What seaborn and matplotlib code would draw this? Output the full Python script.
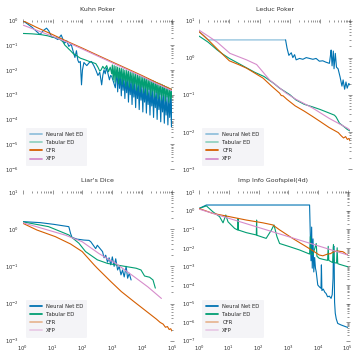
import matplotlib
matplotlib.use("Agg")
import matplotlib.pyplot as plt
from matplotlib.lines import Line2D
import seaborn as sns

# ------------------------------------------------------------
# dados (exploitability x iteracoes)
# ------------------------------------------------------------
LABELS = ['Neural Net ED', 'Tabular ED', 'CFR', 'XFP']
CORES = ['#0173b2', '#029e73', '#d55e00', '#d68ccb']

# Kuhn Poker
kuhn_nn_x = [1, 2, 3.8, 5, 6.3, 7.5, 9.3, 12, 15, 19.5, 25, 30, 35, 42, 49, 56, 63, 70, 76, 85,
             93, 100, 112, 140, 170, 200, 240, 280, 330, 380, 440, 480, 525, 580, 630, 700, 800,
             880, 955, 1120, 1260,
             1410, 1510, 1620, 1740, 1860, 2000, 2140, 2290, 2450, 2630,
             2820, 3020, 3240, 3470, 3720, 3980, 4270, 4570, 4900, 5250,
             5620, 6030, 6460, 6920, 7410, 7940, 8510, 9120, 9770, 10500,
             11200, 12000, 12900, 13800, 14800, 15800, 17000, 18200, 19500, 20900,
             22400, 24000, 25700, 27500, 29500, 31600, 33900, 36300, 38900, 41700,
             44700, 47900, 51300, 55000, 58900, 63100, 67600, 72400, 77600, 83200,
             89100, 95500, 100000]
kuhn_nn_y = [1.0, 0.55, 0.27, 0.4, 0.49, 0.38, 0.22, 0.2, 0.17, 0.26, 0.12, 0.15, 0.09, 0.11, 0.056,
             0.032, 0.06, 0.025, 0.02, 0.022, 0.0025, 0.01, 0.02, 0.015, 0.02, 0.022, 0.015, 0.01,
             0.006, 0.008, 0.0025, 0.006, 0.01, 0.007, 0.012, 0.008, 0.004, 0.006, 0.0055, 0.003,
             0.0019,
             0.009, 0.0013, 0.008, 0.0018, 0.0072, 0.0009, 0.0066, 0.0015, 0.006, 0.0007,
             0.0056, 0.0012, 0.0052, 0.0005, 0.0047, 0.001, 0.0043, 0.0004, 0.004, 0.0008,
             0.0036, 0.0003, 0.0033, 0.0007, 0.003, 0.00025, 0.0028, 0.0006, 0.0026, 0.0002,
             0.0024, 0.0005, 0.0022, 0.00018, 0.002, 0.0004, 0.0019, 0.00015, 0.0017, 0.00035,
             0.0016, 0.00012, 0.0015, 0.0003, 0.0014, 0.0001, 0.0013, 0.00025, 0.0012, 0.00008,
             0.0011, 0.0002, 0.001, 0.00007, 0.00095, 0.00015, 0.0009, 0.00006, 0.00085, 0.00012,
             0.0008, 0.00005, 0.0007]
kuhn_tab_x = [1, 2, 4, 7, 10, 14, 18, 22, 26, 30, 35, 40, 50, 60, 70, 85, 100, 130, 170, 220, 280,
              330, 380, 420, 480, 550, 650, 750, 850, 950,
              1000, 1070, 1150, 1230, 1320,
              1410, 1510, 1620, 1740, 1860, 2000, 2140, 2290, 2450, 2630,
              2820, 3020, 3240, 3470, 3720, 3980, 4270, 4570, 4900, 5250,
              5620, 6030, 6460, 6920, 7410, 7940, 8510, 9120, 9770, 10500,
              11200, 12000, 12900, 13800, 14800, 15800, 17000, 18200, 19500, 20900,
              22400, 24000, 25700, 27500, 29500, 31600, 33900, 36300, 38900, 41700,
              44700, 47900, 51300, 55000, 58900, 63100, 67600, 72400, 77600, 83200,
              89100, 95500, 100000]
kuhn_tab_y = [0.3, 0.29, 0.27, 0.24, 0.21, 0.2, 0.17, 0.14, 0.1, 0.085, 0.07, 0.06, 0.045, 0.04,
              0.035, 0.03, 0.028, 0.025, 0.022, 0.02, 0.018, 0.013, 0.009, 0.01, 0.014, 0.011, 0.015,
              0.0085, 0.013, 0.007,
              0.016, 0.004, 0.015, 0.0032, 0.014,
              0.005, 0.013, 0.0028, 0.012, 0.0045, 0.0115, 0.0026, 0.011, 0.0038, 0.0098,
              0.0022, 0.0095, 0.0035, 0.0088, 0.002, 0.0083, 0.003, 0.0078, 0.0017, 0.0073,
              0.0027, 0.0068, 0.0015, 0.0064, 0.0024, 0.006, 0.0013, 0.0056, 0.002, 0.0053,
              0.0012, 0.005, 0.0018, 0.0046, 0.001, 0.0044, 0.0016, 0.0041, 0.0009, 0.0038,
              0.0014, 0.0036, 0.0008, 0.0033, 0.0012, 0.0031, 0.0007, 0.0029, 0.001, 0.0027,
              0.0006, 0.0025, 0.0009, 0.0023, 0.00055, 0.0021, 0.0008, 0.002, 0.0005, 0.0018,
              0.0007, 0.0017, 0.0006]
kuhn_cfr_x = [1, 3, 10, 30, 100, 300, 1000, 3000, 10000, 30000, 100000]
kuhn_cfr_y = [1.0, 0.52, 0.27, 0.145, 0.076, 0.041, 0.021, 0.0115, 0.0059, 0.0031, 0.0016]
kuhn_xfp_x = [1, 3, 10, 30, 100, 300, 1000, 3000, 10000, 30000, 100000]
kuhn_xfp_y = [0.66, 0.4, 0.23, 0.135, 0.07, 0.038, 0.0195, 0.0106, 0.0054, 0.0028, 0.00145]

# Leduc Poker
leduc_nn_plano_x = [1, 1.5, 2, 10, 100, 725]
leduc_nn_plano_y = [5.0, 3.8, 3.0, 3.0, 3.0, 3.0]
leduc_nn_x = [725, 810, 930, 1120, 1260, 1440, 1620, 2100, 2700, 3500, 4500, 5800, 7400, 9500,
              12300, 15800, 20400, 22000, 23300, 25000, 27500, 29000, 32000, 35000, 39500, 46000,
              53000, 58000, 65000, 72000, 79000, 89000, 100000]
leduc_nn_y = [3.0, 1.8, 1.15, 1.35, 1.0, 1.2, 0.87, 0.95, 0.9, 1.0, 0.95, 0.9, 0.95, 0.8, 0.82,
              0.75, 0.7, 1.1, 1.6, 0.6, 1.5, 0.5, 1.3, 0.55, 0.5, 0.3, 0.17, 0.25, 0.14, 0.22, 0.15,
              0.2, 0.18]
leduc_tab_x = [1, 2, 4, 6, 10, 20, 37, 70, 140, 300, 460, 1000, 1600, 3000, 5600, 10000, 20000,
               30000, 34000, 44000, 60000, 80000, 100000]
leduc_tab_y = [3.8, 2.6, 1.6, 1.25, 0.95, 0.7, 0.53, 0.4, 0.31, 0.2, 0.15, 0.1, 0.072, 0.055,
               0.047, 0.04, 0.032, 0.028, 0.025, 0.017, 0.014, 0.0115, 0.0105]
leduc_cfr_x = [1, 2, 4, 10, 20, 37, 70, 130, 250, 460, 520, 600, 800, 1500, 3000, 5600, 10000,
               20000, 40000, 50000, 60000, 70000, 80000, 90000, 100000]
leduc_cfr_y = [5.0, 3.0, 1.7, 0.82, 0.65, 0.52, 0.38, 0.28, 0.17, 0.11, 0.095, 0.093, 0.075, 0.05,
               0.036, 0.026, 0.019, 0.013, 0.0095, 0.0078, 0.0068, 0.0074, 0.0062, 0.0066, 0.0056]
leduc_xfp_x = [1, 2, 4, 10.5, 37, 80, 215, 760, 1600, 5600, 20000, 80000, 100000]
leduc_xfp_y = [5.5, 3.8, 2.6, 1.3, 0.87, 0.65, 0.25, 0.11, 0.075, 0.044, 0.023, 0.0125, 0.011]

# Liar's Dice
liars_nn_x = [1, 3.9, 11, 35, 40, 45, 66, 112, 166, 190, 277, 315, 470, 530, 600, 690, 780, 890,
              1000, 1150, 1300, 1500, 1700, 1950, 2200, 2500, 2900, 3250, 3700, 4250]
liars_nn_y = [1.6, 1.5, 1.35, 1.17, 0.77, 0.6, 0.54, 0.51, 0.5, 0.46, 0.3, 0.37, 0.25, 0.17, 0.2,
              0.13, 0.17, 0.11, 0.18, 0.1, 0.16, 0.08, 0.1, 0.059, 0.08, 0.052, 0.1, 0.048, 0.065,
              0.043]
liars_tab_x = [1, 7.4, 35, 76, 127, 315, 690, 1300, 6300, 9100, 12000, 17700, 23000, 27500]
liars_tab_y = [1.58, 1.17, 0.7, 0.42, 0.25, 0.15, 0.12, 0.11, 0.089, 0.08, 0.055, 0.051, 0.043,
               0.026]
liars_cfr_x = [1, 3, 12.4, 40, 98, 245, 315, 890, 2000, 5500, 20000, 30000, 40000, 50000, 60000,
               70000, 80000, 90000, 100000]
liars_cfr_y = [1.45, 0.95, 0.63, 0.4, 0.25, 0.11, 0.089, 0.039, 0.021, 0.011, 0.0049, 0.0038,
               0.0031, 0.0028, 0.0023, 0.0024, 0.002, 0.0021, 0.0018]
liars_xfp_x = [1, 27, 98, 360, 1300, 5500, 15500, 44000]
liars_xfp_y = [1.5, 0.69, 0.46, 0.22, 0.12, 0.052, 0.028, 0.0137]

# Imp Info Goofspiel(4d)
goof_nn_x = [1, 1.76, 10, 100, 1000, 5200, 5500, 5800, 6100, 6400, 6800, 7200, 7700, 8200, 8700,
             9800, 11000, 12600, 13000, 13500, 15000, 17000, 18600, 21000, 24000, 27500, 30000,
             32000, 33000, 34500, 36000, 38000, 41000, 46000, 60000, 87000, 100000]
goof_nn_y = [1.3, 2.0, 2.0, 2.0, 2.0, 2.0, 0.05, 0.002, 0.13, 0.0008, 0.03, 0.0005, 0.003, 0.0008,
             5e-4, 1e-4, 8e-5, 6.6e-5, 1.2e-3, 5e-5, 6e-5, 4e-5, 3.5e-5, 2.3e-5, 2.5e-5, 1.9e-5,
             3e-5, 2.2e-4, 1.1e-2, 1.2e-2, 1.2e-5, 3e-6, 1.5e-6, 8.5e-7, 7e-7, 5.6e-7, 5.2e-7]
goof_tab_x = [1, 1.76, 2.9, 4.9, 6.4, 7.9, 9.4, 15.7, 20, 20.5, 21, 39, 84, 86, 88, 180, 270, 330,
              415, 510, 1100, 2400, 5200, 5500, 5800, 6700, 8700, 9200, 11000, 14500, 21000, 22000,
              23000, 31000, 33000, 35000, 42000, 44000, 46000, 52000, 100000]
goof_tab_y = [1.3, 1.8, 0.87, 0.47, 0.22, 0.58, 0.25, 0.11, 0.09, 0.38, 0.09, 0.065, 0.049, 0.31,
              0.047, 0.032, 0.09, 0.17, 0.04, 0.017, 0.0115, 0.0076, 0.0046, 0.04, 0.0045, 0.0042,
              0.017, 0.0035, 0.0027, 0.0024, 0.0021, 0.012, 0.0021, 0.0016, 0.015, 0.0016, 0.0015,
              0.01, 0.0014, 0.0013, 0.00095]
goof_cfr_x = [1, 2.9, 10.7, 39, 140, 300, 510, 1400, 4000, 6700, 11000, 14500, 21000, 26000, 31000,
              37000, 46000, 55000, 68000, 78000, 87000, 100000]
goof_cfr_y = [1.3, 0.71, 0.47, 0.31, 0.22, 0.17, 0.092, 0.032, 0.0115, 0.0069, 0.0041, 0.0037,
              0.0046, 0.0048, 0.0057, 0.0063, 0.0068, 0.0064, 0.0062, 0.0054, 0.0046, 0.0042]
goof_xfp_x = [1, 10, 100, 1000, 10000, 100000]
goof_xfp_y = [1.2, 0.385, 0.124, 0.04, 0.0128, 0.0041]

PAINEIS = [
    ('Kuhn Poker', [0.063, 0.531, 0.415, 0.412], (1e-6, 1),
     [(kuhn_nn_x, kuhn_nn_y), (kuhn_tab_x, kuhn_tab_y), (kuhn_cfr_x, kuhn_cfr_y), (kuhn_xfp_x, kuhn_xfp_y)],
     [0.4, 0.4, 1, 1], False),
    ('Leduc Poker', [0.553, 0.531, 0.42, 0.412], (1e-3, 10),
     [(leduc_nn_x, leduc_nn_y), (leduc_tab_x, leduc_tab_y), (leduc_cfr_x, leduc_cfr_y), (leduc_xfp_x, leduc_xfp_y)],
     [0.4, 0.4, 1, 1], False),
    ("Liar's Dice", [0.063, 0.0536, 0.415, 0.413], (1e-3, 10),
     [(liars_nn_x, liars_nn_y), (liars_tab_x, liars_tab_y), (liars_cfr_x, liars_cfr_y), (liars_xfp_x, liars_xfp_y)],
     [1, 1, 0.4, 0.4], True),
    ('Imp Info Goofspiel(4d)', [0.553, 0.0536, 0.413, 0.413], (1e-7, 10),
     [(goof_nn_x, goof_nn_y), (goof_tab_x, goof_tab_y), (goof_cfr_x, goof_cfr_y), (goof_xfp_x, goof_xfp_y)],
     [1, 1, 0.4, 0.4], True),
]

sns.set_theme(style='white')
fig = plt.figure(figsize=(3.6, 3.6), dpi=100)

for titulo, pos, ylim, series, alfas, mostra_x in PAINEIS:
    ax = fig.add_axes(pos)
    if titulo == 'Leduc Poker':
        # trecho plano inicial aparece mais claro
        sns.lineplot(x=leduc_nn_plano_x, y=leduc_nn_plano_y, ax=ax, color=CORES[0], alpha=0.45,
                     lw=0.9, estimator=None, sort=False)
    for (xs, ys), cor in zip(series, CORES):
        sns.lineplot(x=xs, y=ys, ax=ax, color=cor, lw=0.8, estimator=None, sort=False)

    ax.set_xscale('log')
    ax.set_yscale('log')
    ax.set_xlim(1, 1e5)
    ax.set_ylim(*ylim)
    ax.set_title(titulo, fontsize=4.5, pad=7, color='#333333')
    for s in ax.spines.values():
        s.set_visible(False)
    ax.tick_params(which='both', direction='inout', top=True, right=True, color='#444444',
                   width=0.4, labelsize=3.8, labelcolor='#333333', pad=1)
    ax.tick_params(which='major', length=3)
    ax.tick_params(which='minor', length=1.6)
    ax.yaxis.set_major_locator(matplotlib.ticker.LogLocator(base=10, numticks=12))
    ax.yaxis.set_minor_locator(matplotlib.ticker.LogLocator(base=10, subs=range(2, 10), numticks=12))
    ax.yaxis.set_minor_formatter(matplotlib.ticker.NullFormatter())
    if not mostra_x:
        ax.tick_params(labelbottom=False)

    handles = [Line2D([0], [0], color=c, lw=1.3, alpha=a) for c, a in zip(CORES, alfas)]
    leg = ax.legend(handles, LABELS, loc='lower left', fontsize=3.8, frameon=True,
                    handlelength=2.2, borderpad=0.8, labelspacing=0.6, borderaxespad=0.6)
    leg.get_frame().set_facecolor('#f2f2f6')
    leg.get_frame().set_edgecolor('none')

fig.savefig('out.png', dpi=100)
